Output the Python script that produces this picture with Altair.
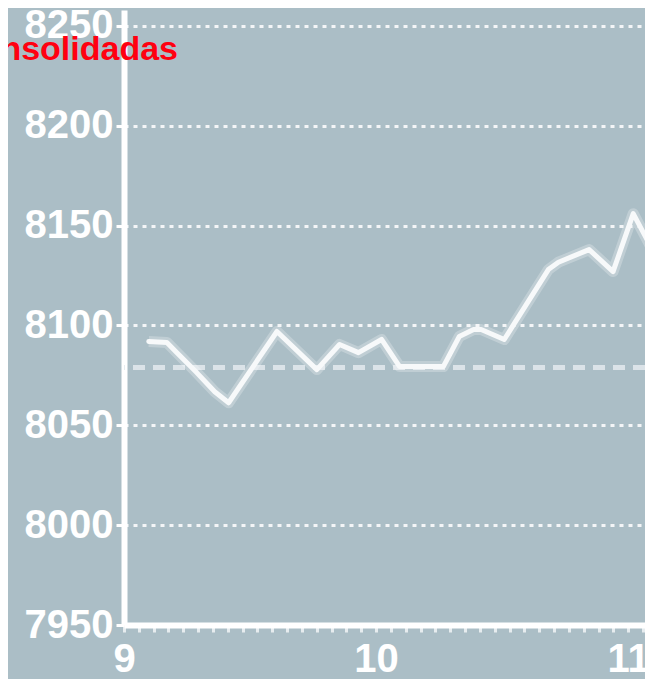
import altair as alt
import pandas as pd

# minutes after 9:00 and index level
minutes = [5.9, 10.2, 12.6, 17.3, 21.6, 24.9, 36.4, 45.9, 51.3, 55.8, 61.3, 65.6,
           76.0, 79.8, 83.2, 85.0, 90.5, 101.0, 103.4, 110.7, 116.4, 121.2, 125.5]
values = [8092, 8091.5, 8086.4, 8076.4, 8066.8, 8061.3, 8097, 8077.9, 8090.5, 8086.4,
          8093, 8079.4, 8079.4, 8094.5, 8098, 8098, 8093, 8128, 8131.7, 8138, 8127,
          8156, 8139]
y_ticks = [7950, 8000, 8050, 8100, 8150, 8200, 8250]
ref_level = [8079]
title_text = ["nsolidadas"]

x_ticks = [540 + 60 * k / 17 for k in range(0, 36)]

df = pd.DataFrame({"t": [540 + m for m in minutes], "v": values})
ref_df = pd.DataFrame({"v": ref_level})
txt_df = pd.DataFrame({"s": title_text})

BG = "#abbec6"

x_enc = alt.X("t:Q",
              scale=alt.Scale(domain=[540, 664], nice=False, zero=False),
              axis=alt.Axis(values=x_ticks, tickCount=len(x_ticks) * 2, grid=False, title=None,
                            labelExpr="abs(datum.value % 60) < 0.01 ? format(datum.value / 60, 'd') : ''",
                            labelFlush=False, labelOverlap=False,
                            tickSize=7, tickWidth=3, tickColor="#e6ecef",
                            domainColor="white", domainWidth=6,
                            labelColor="white", labelFont="Liberation Sans",
                            labelFontWeight="bold", labelFontSize=40, labelPadding=7,
                            labelBaseline="top"))
y_enc = alt.Y("v:Q",
              scale=alt.Scale(domain=[7950, 8258], nice=False, zero=False),
              axis=alt.Axis(values=y_ticks, format="d", title=None,
                            grid=True, gridColor="white", gridWidth=3,
                            gridDash=[4, 5], gridOpacity=0.85,
                            tickSize=8, tickWidth=3, tickColor="white",
                            domainColor="white", domainWidth=6,
                            labelColor="white", labelFont="Liberation Sans",
                            labelFontWeight="bold", labelFontSize=40, labelPadding=3))

ref = alt.Chart(ref_df).mark_rule(color="#e3eaed", strokeWidth=5,
                                  strokeDash=[12, 8], opacity=0.85).encode(y=alt.Y("v:Q"))

glow = alt.Chart(df).mark_line(color="white", strokeWidth=11, opacity=0.25,
                               clip=True, strokeJoin="round").encode(x=x_enc, y=y_enc)
line = alt.Chart(df).mark_line(color="#f7f9fa", strokeWidth=5, clip=True,
                               strokeJoin="round", strokeCap="round").encode(x="t:Q", y="v:Q")

label = alt.Chart(txt_df).mark_text(align="right", baseline="alphabetic",
                                    font="Liberation Sans", fontWeight="bold",
                                    fontSize=34, color="#ff0010").encode(
    text="s:N", x=alt.value(54), y=alt.value(50))

chart = alt.layer(ref, glow, line, label).properties(
    width=521, height=615,
    padding={"left": 116, "top": 2, "right": 0, "bottom": 54},
    autosize=alt.AutoSizeParams(type="none"),
    background=BG,
).configure_view(stroke=None, fill=BG)

chart.save("out.html", embed_options={"renderer": "svg", "actions": False})
